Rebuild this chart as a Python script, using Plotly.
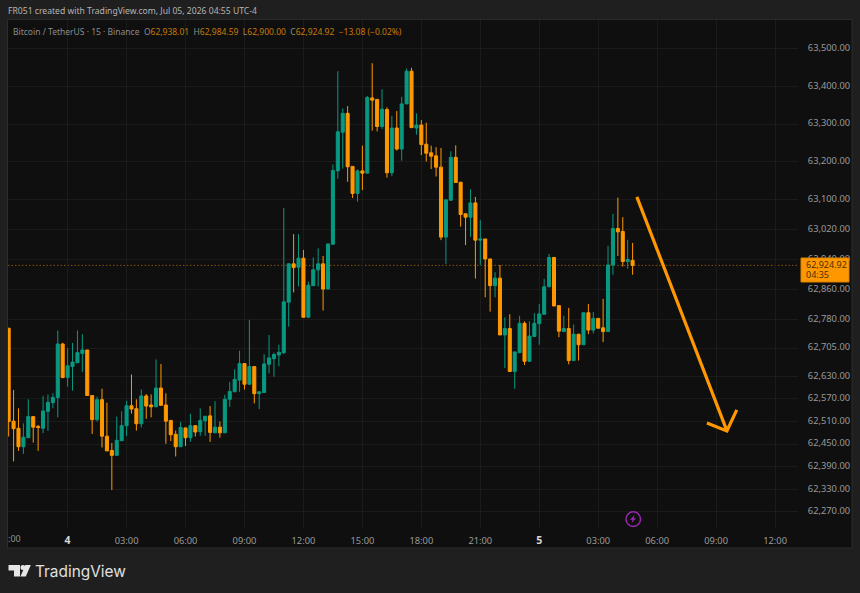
import pandas as pd
import plotly.graph_objects as go

W, H = 860, 593
# plot area in window pixels
L, R, T, B = 8, 798, 20, 528

# candles, 15 min, first one is Jul 3 21:00
times = pd.date_range("2026-07-03 21:00", periods=128, freq="15min").strftime("%Y-%m-%d %H:%M").tolist()

opens = [
    62758, 62511, 62492, 62443, 62467, 62523, 62497, 62492, 62537, 62560, 62574, 62716,
    62627, 62656, 62666, 62691, 62700, 62579, 62515, 62568, 62471, 62433, 62420, 62459, 62499, 62552, 62544, 62504, 62578, 62554, 62549, 62599,
    62554, 62513, 62476, 62443, 62493, 62467, 62499, 62483, 62512, 62525, 62480, 62495, 62480, 62569, 62589, 62620, 62664, 62609, 62656, 62584,
    62587, 62662, 62677, 62687, 62693, 62827, 62929, 62920, 62944, 62787, 62871, 62913, 62929, 62862, 62981, 63176, 63279, 63329, 63188, 63116,
    63176, 63170, 63370, 63366, 63294, 63339, 63171, 63290, 63234, 63354, 63441, 63290, 63298, 63247, 63224, 63216, 63186, 63000, 63098, 63212,
    63146, 63062, 63053, 63091, 62992, 62995, 62942, 62871, 62891, 62740, 62757, 62643, 62693, 62771, 62670, 62736, 62770, 62795, 62868, 62946,
    62818, 62749, 62757, 62672, 62742, 62714, 62799, 62753, 62784, 62759, 62749, 62926, 63023, 63015, 62935, 62938.01,
]
highs = [
    62758, 62594, 62545, 62505, 62569, 62523, 62501, 62578, 62582, 62585, 62752, 62719,
    62705, 62719, 62752, 62742, 62700, 62579, 62576, 62597, 62560, 62453, 62523, 62537, 62565, 62635, 62569, 62595, 62583, 62582, 62675, 62663,
    62585, 62513, 62486, 62509, 62493, 62531, 62499, 62545, 62524, 62551, 62564, 62510, 62581, 62615, 62649, 62698, 62664, 62780, 62656, 62589,
    62689, 62740, 62693, 62714, 63077, 62931, 63008, 63008, 62966, 62882, 62946, 62970, 62950, 62982, 63193, 63441, 63342, 63348, 63188, 63180,
    63243, 63375, 63462, 63366, 63393, 63345, 63322, 63335, 63373, 63448, 63450, 63329, 63311, 63304, 63243, 63239, 63237, 63099, 63228, 63244,
    63146, 63062, 63127, 63107, 63045, 62995, 62942, 62907, 62926, 62787, 62795, 62695, 62791, 62776, 62776, 62798, 62822, 62889, 62955, 62946,
    62818, 62791, 62812, 62768, 62742, 62799, 62822, 62801, 62784, 62836, 62977, 63062, 63105, 63053, 62993, 62984.59,
]
lows = [
    62470, 62404, 62432, 62424, 62467, 62454, 62432, 62479, 62485, 62545, 62521, 62625,
    62603, 62592, 62666, 62642, 62579, 62477, 62510, 62441, 62432, 62328, 62420, 62459, 62471, 62531, 62486, 62494, 62517, 62521, 62549, 62553,
    62451, 62458, 62417, 62443, 62445, 62456, 62470, 62472, 62472, 62456, 62480, 62467, 62480, 62549, 62589, 62589, 62595, 62609, 62558, 62543,
    62587, 62638, 62629, 62657, 62689, 62762, 62853, 62869, 62787, 62787, 62871, 62869, 62805, 62862, 62981, 63155, 63182, 63147, 63104, 63094,
    63125, 63170, 63283, 63281, 63287, 63158, 63162, 63230, 63203, 63354, 63291, 63272, 63218, 63201, 63181, 63161, 62992, 62929, 63098, 63145,
    63028, 62979, 63001, 62890, 62926, 62840, 62802, 62840, 62740, 62652, 62643, 62597, 62693, 62660, 62670, 62736, 62714, 62795, 62868, 62817,
    62734, 62749, 62662, 62672, 62672, 62714, 62742, 62744, 62758, 62721, 62749, 62900, 62950, 62922, 62916, 62900.00,
]
closes = [
    62510, 62491, 62443, 62468, 62523, 62495, 62494, 62538, 62561, 62574, 62716, 62627,
    62658, 62668, 62693, 62700, 62579, 62515, 62568, 62471, 62432, 62420, 62460, 62499, 62552, 62543, 62504, 62578, 62551, 62549, 62599, 62553,
    62511, 62475, 62443, 62494, 62467, 62499, 62482, 62513, 62524, 62481, 62495, 62480, 62569, 62590, 62622, 62664, 62609, 62656, 62584, 62589,
    62663, 62679, 62688, 62694, 62828, 62929, 62919, 62944, 62787, 62872, 62913, 62929, 62862, 62982, 63177, 63280, 63329, 63187, 63116, 63176,
    63170, 63371, 63364, 63294, 63340, 63171, 63290, 63234, 63354, 63441, 63291, 63298, 63246, 63223, 63215, 63186, 63000, 63099, 63212, 63145,
    63060, 63053, 63091, 62992, 62995, 62942, 62871, 62891, 62740, 62757, 62643, 62695, 62771, 62670, 62737, 62771, 62796, 62868, 62946, 62817,
    62750, 62757, 62672, 62742, 62714, 62799, 62753, 62784, 62758, 62749, 62926, 63023, 63014, 62935, 62941, 62924.92,
]

price_ticks = [63500, 63400, 63300, 63200, 63100, 63020, 62940, 62860, 62780, 62705, 62630, 62570, 62510, 62450, 62390, 62330, 62270]
time_ticks = ["2026-07-03 21:00", "2026-07-04 00:00", "2026-07-04 03:00", "2026-07-04 06:00", "2026-07-04 09:00", "2026-07-04 12:00",
              "2026-07-04 15:00", "2026-07-04 18:00", "2026-07-04 21:00", "2026-07-05 00:00", "2026-07-05 03:00", "2026-07-05 06:00",
              "2026-07-05 09:00", "2026-07-05 12:00"]
day_4 = '<span style="color:#d8d8d8;font-size:10.5px"><b>4</b></span>'
day_5 = '<span style="color:#d8d8d8;font-size:10.5px"><b>5</b></span>'
time_labels = ["", day_4, "03:00", "06:00", "09:00", "12:00", "15:00", "18:00", "21:00", day_5, "03:00", "06:00", "09:00", "12:00"]

# hand drawn arrow on the chart
arrow_x = ["2026-07-05 04:58", "2026-07-05 09:33", None, "2026-07-05 08:32", "2026-07-05 09:33", "2026-07-05 10:03"]
arrow_y = [63107, 62485, None, 62506, 62485, 62541]

ORANGE = "#ff9800"
GREEN = "#089981"
FONT = "Noto Sans"


def py_(y):
    # window y to paper y (paper covers only the plot area)
    return (B - y) / (B - T)


def xp(x):
    return (x - L) / (R - L)


fig = go.Figure()
fig.add_trace(go.Candlestick(
    x=times, open=opens, high=highs, low=lows, close=closes,
    increasing=dict(line=dict(color=GREEN, width=1), fillcolor=GREEN),
    decreasing=dict(line=dict(color=ORANGE, width=1), fillcolor=ORANGE),
    whiskerwidth=0, showlegend=False,
))
fig.add_trace(go.Scatter(
    x=arrow_x, y=arrow_y, mode="lines",
    line=dict(color=ORANGE, width=3.2), showlegend=False, hoverinfo="skip",
))

shapes = [
    # dark pane behind plot and axes
    dict(type="rect", xref="paper", yref="paper", x0=xp(7.5), x1=xp(852), y0=py_(548), y1=py_(19.5),
         fillcolor="#0f0f0f", line=dict(color="#2c2c2c", width=1), layer="below"),
    # last price line
    dict(type="line", xref="paper", yref="y", x0=0, x1=1, y0=closes[-1], y1=closes[-1],
         line=dict(color="rgba(255,152,0,0.5)", width=1, dash="1.5px,2px"), layer="below"),
    # price tag
    dict(type="rect", xref="paper", yref="paper", x0=xp(801), x1=xp(849), y0=py_(282), y1=py_(258),
         fillcolor=ORANGE, line=dict(color="#d98200", width=1)),
    # lightning badge
    dict(type="circle", xref="paper", yref="paper", x0=xp(626), x1=xp(640.5), y0=py_(526.5), y1=py_(511.8),
         line=dict(color="#9c27b0", width=1.5)),
    dict(type="path", xref="paper", yref="paper", fillcolor="#9c27b0", line=dict(width=0),
         path="M %f %f L %f %f L %f %f L %f %f L %f %f L %f %f Z" % (
             xp(634.5), py_(515), xp(630), py_(519.8), xp(632.6), py_(519.8),
             xp(631.5), py_(523), xp(636.2), py_(518.2), xp(633.6), py_(518.2))),
    # TradingView logo
    dict(type="path", xref="paper", yref="paper", fillcolor="#e6e6e6", line=dict(width=0),
         path="M %f %f L %f %f L %f %f L %f %f L %f %f L %f %f Z" % (
             xp(8.5), py_(565), xp(20), py_(565), xp(20), py_(576.5),
             xp(14), py_(576.5), xp(14), py_(570.5), xp(8.5), py_(570.5))),
    dict(type="circle", xref="paper", yref="paper", fillcolor="#e6e6e6", line=dict(width=0),
         x0=xp(20.5), x1=xp(25.5), y0=py_(570), y1=py_(565)),
    dict(type="path", xref="paper", yref="paper", fillcolor="#e6e6e6", line=dict(width=0),
         path="M %f %f L %f %f L %f %f L %f %f Z" % (
             xp(25.4), py_(565), xp(30.8), py_(565), xp(25.8), py_(576.5), xp(20.4), py_(576.5))),
]

legend_text = ('<span style="color:#8c8c8c">Bitcoin / TetherUS · 15 · Binance  O</span>62,938.01'
               '<span style="color:#8c8c8c">  H</span>62,984.59'
               '<span style="color:#8c8c8c">  L</span>62,900.00'
               '<span style="color:#8c8c8c">  C</span>62,924.92  −13.08 (−0.02%)')

annotations = [
    dict(text="FR051 created with TradingView.com, Jul 05, 2026 04:55 UTC-4", x=xp(7.5), y=py_(11),
         xanchor="left", yanchor="middle", font=dict(size=8.6, color="#b4b4b4", family=FONT)),
    dict(text=legend_text, x=xp(13), y=py_(31.5), xanchor="left", yanchor="middle",
         font=dict(size=8.5, color="#c77a08", family=FONT)),
    dict(text=":00", x=xp(8), y=py_(538.5), xanchor="left", yanchor="middle",
         font=dict(size=9, color="#8f8f8f", family=FONT)),
    dict(text="62,924.92", x=xp(805.5), y=py_(264.5), xanchor="left", yanchor="middle",
         font=dict(size=9, color="#4a3000", family=FONT)),
    dict(text="04:35", x=xp(805.5), y=py_(274.5), xanchor="left", yanchor="middle",
         font=dict(size=9, color="#4a3000", family=FONT)),
    dict(text="TradingView", x=xp(35), y=py_(571), xanchor="left", yanchor="middle",
         font=dict(size=15.4, color="#e0e0e0", family="Inter")),
]
for a in annotations:
    a.update(xref="paper", yref="paper", showarrow=False, xshift=0, borderpad=0, borderwidth=0)

fig.update_layout(
    width=W, height=H,
    margin=dict(l=L, r=W - R, t=T, b=H - B, pad=0),
    paper_bgcolor="#1f1f1f", plot_bgcolor="#0f0f0f",
    boxgap=0.38, boxgroupgap=0,
    shapes=shapes, annotations=annotations,
    showlegend=False, dragmode=False,
    font=dict(family=FONT, size=9.5, color="#9a9a9a"),
)
fig.update_xaxes(
    type="date", range=["2026-07-03 20:58", "2026-07-05 13:10"],
    rangeslider_visible=False,
    tickmode="array", tickvals=time_ticks, ticktext=time_labels, tickangle=0,
    showgrid=True, gridcolor="#1b1b1b", gridwidth=1, zeroline=False, showline=False,
    ticks="outside", ticklen=4, tickcolor="rgba(0,0,0,0)",
    tickfont=dict(size=9.3, color="#9a9a9a", family=FONT),
)
fig.update_yaxes(
    side="right", range=[62227, 63577],
    tickmode="array", tickvals=price_ticks, ticktext=[f"{v:,.2f}" for v in price_ticks],
    showgrid=True, gridcolor="#1b1b1b", gridwidth=1, zeroline=False, showline=False,
    ticks="outside", ticklen=7, tickcolor="rgba(0,0,0,0)",
    ticklabelshift=-1,
    tickfont=dict(size=9.3, color="#9a9a9a", family=FONT),
)

# page margin off, otherwise the figure sits 8px down and right
fig.write_html("out.html", config=dict(displayModeBar=False),
               post_script="document.body.style.margin='0';")
